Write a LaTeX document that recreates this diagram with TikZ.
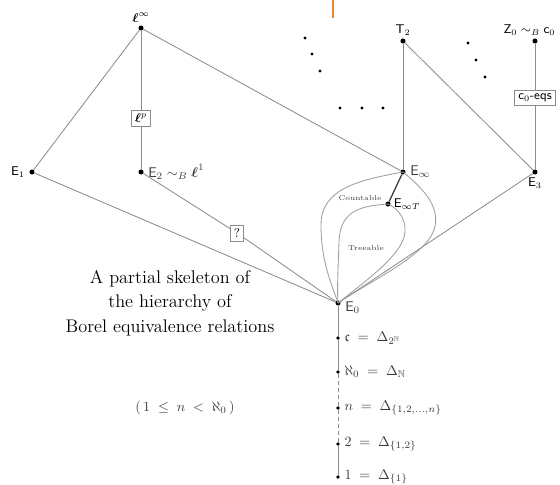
\documentclass[tikz,border=0pt]{standalone}
\usepackage{amsmath,amssymb}
\usepackage{xcolor}
\usepackage{tikz}
\usetikzlibrary{positioning}
\definecolor{SkelGray}{HTML}{8C8C8C}
\definecolor{SkelDark}{HTML}{3A3A3A}
\definecolor{SkelOrange}{HTML}{F0862A}
\tikzset{
  pt/.style={circle, fill=black, inner sep=0pt, minimum size=3.6pt},
  tick/.style={circle, fill=black, inner sep=0pt, minimum size=2.6pt},
  lbl/.style={font=\small, inner sep=2pt},
  chainlbl/.style={font=\normalsize, inner sep=3pt, text=SkelDark},
  edge/.style={draw=SkelGray, line width=0.6pt},
  region/.style={draw=SkelGray!85, line width=0.6pt},
  tag/.style={draw=SkelGray, fill=white, inner sep=2.5pt, font=\small},
  tiny/.style={font=\tiny, text=SkelDark}
}

\begin{document}
\begin{tikzpicture}[x=0.025cm, y=-0.025cm]
  \useasboundingbox (0,0) rectangle (560,485);
  \draw[SkelOrange, line width=1.2pt] (333,0) -- (333,18);
  % upper part
  \node[pt, label={[lbl]above:$\boldsymbol{\ell}^{\infty}$}] (linf) at (141,28) {};
  \node[tag] (lp) at (141,118) {$\boldsymbol{\ell}^{p}$};
  \node[pt, label={[lbl, inner sep=3pt]left:$\mathsf{E}_1$}] (E1) at (32,172) {};
  \node[pt, label={[chainlbl]right:$\mathsf{E}_2 \sim_B \boldsymbol{\ell}^1$}] (E2) at (141,172) {};
  \node[tag] (qbox) at (237,233) {?};
  \node[pt, label={[lbl]above:$\mathsf{T}_2$}] (T2) at (403,41) {};
  \node[pt, label={[lbl, xshift=-4pt]above:$\mathsf{Z}_0 \sim_B \mathsf{c}_0$}] (Z0) at (535,41) {};
  \node[tag] (ceqs) at (535,98) {$\mathsf{c}_0$\textsf{-eqs}};
  \node[pt, label={[chainlbl]right:$\mathsf{E}_{\infty}$}] (Einf) at (403,172) {};
  \node[pt, label={[lbl]below:$\mathsf{E}_3$}] (E3) at (535,172) {};
  \node[pt, label={[lbl]right:$\mathsf{E}_{\infty T}$}] (EinfT) at (388,204) {};
  \node[pt, label={[chainlbl, yshift=-3pt]right:$\mathsf{E}_0$}] (E0) at (338,303) {};
  % dots
  \foreach \p in {(305,38),(312,54),(320,71),(340,108),(362,108),(383,108),(468,43),(476,60),(485,77)}
    \fill \p circle (1.1pt);
  % edges
  \draw[edge] (linf) -- (E1);
  \draw[edge] (linf) -- (lp) -- (E2);
  \draw[edge] (linf) -- (Einf);
  \draw[edge] (E1) -- (E0);
  \draw[edge] (E2) -- (qbox) -- (E0);
  \draw[edge] (T2) -- (Einf);
  \draw[edge] (T2) -- (E3);
  \draw[edge] (Z0) -- (ceqs) -- (E3);
  \draw[edge] (E3) -- (E0);
  \draw[SkelDark, line width=0.9pt] (Einf) -- (EinfT);
  % countable and treeable regions
  \draw[region] (Einf.center) .. controls (360,180) and (321,188) .. (321,225)
    .. controls (321,262) and (332,285) .. (E0.center);
  \draw[region] (Einf.center) .. controls (420,186) and (442,206) .. (434,230)
    .. controls (425,256) and (372,280) .. (E0.center);
  \draw[region] (EinfT.center) .. controls (358,206) and (340,212) .. (339,242)
    .. controls (338,270) and (337,290) .. (E0.center);
  \draw[region] (EinfT.center) .. controls (398,208) and (410,222) .. (403,240)
    .. controls (395,260) and (362,284) .. (E0.center);
  \node[tiny] (cnt) at (360,198) {Countable};
  \node[tiny] (tre) at (366,248) {Treeable};
  % chain below E_0
  \node[tick, label={[chainlbl]right:$\mathfrak{c} \;=\; \Delta_{2^{\mathbb{N}}}$}] (cont) at (338,338) {};
  \node[tick, label={[chainlbl]right:$\aleph_0 \;=\; \Delta_{\mathbb{N}}$}] (aleph) at (338,372) {};
  \node[tick, label={[chainlbl]right:$n \;=\; \Delta_{\{1,2,\ldots,n\}}$}] (nn) at (338,408) {};
  \node[tick, label={[chainlbl]right:$2 \;=\; \Delta_{\{1,2\}}$}] (two) at (338,444) {};
  \node[tick, label={[chainlbl]right:$1 \;=\; \Delta_{\{1\}}$}] (one) at (338,477) {};
  \draw[edge] (E0) -- (cont) -- (aleph);
  \draw[edge, densely dashed] (aleph) -- (nn) -- (two);
  \draw[edge] (two) -- (one);
  \node[chainlbl] (range) at (185,408) {$(\,1 \;\le\; n \;<\; \aleph_0\,)$};
  % caption
  \node[align=center, font=\fontsize{13}{17.5}\selectfont, text=black] (caption) at (170,303)
    {A partial skeleton of\\the hierarchy of\\Borel equivalence relations};
\end{tikzpicture}
\end{document}
